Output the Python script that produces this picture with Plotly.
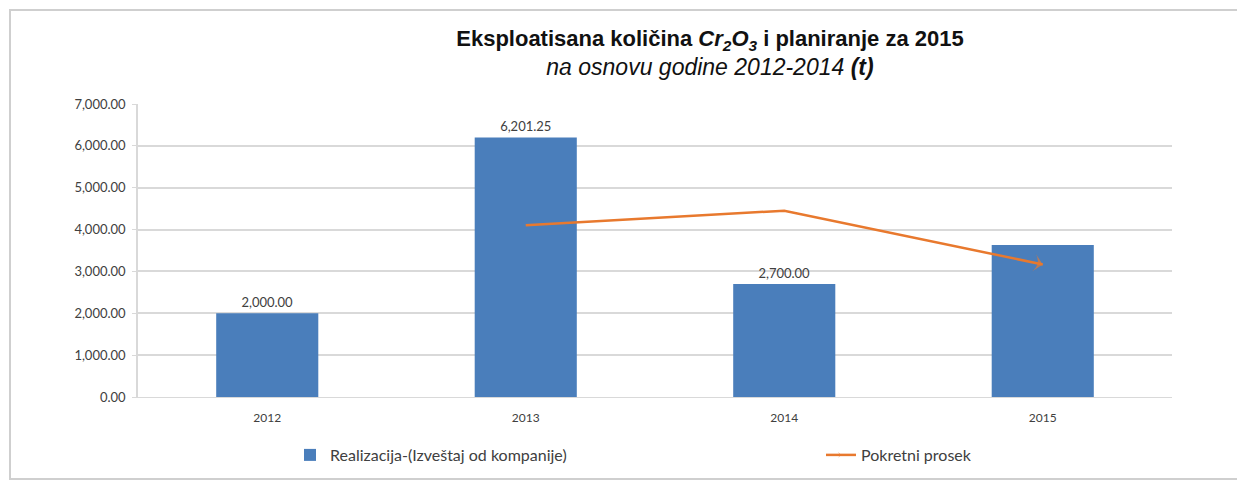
import plotly.graph_objects as go

# ---- data ----
years = ["2012", "2013", "2014", "2015"]
realizacija = [2000.00, 6201.25, 2700.00, 3633.75]
label_text = ["2,000.00", "6,201.25", "2,700.00", ""]

prosek_years = ["2013", "2014", "2015"]
pokretni_prosek = [4100.63, 4450.63, 3166.88]

y_ticks = [0, 1000, 2000, 3000, 4000, 5000, 6000, 7000]

BLUE = "#4a7ebb"
ORANGE = "#e8792e"
TXT = "#404040"
GRID = "#d9d9d9"

# page body has an 8px default margin -> figure is drawn 8px right/down
OFF = 8
W, H = 1245 - OFF, 487 - OFF
L, R, T, B = 138 - OFF, 1172 - OFF, 104 - OFF, 397 - OFF

fig = go.Figure()

fig.add_trace(go.Bar(
    x=years, y=realizacija,
    name="Realizacija-(Izveštaj od kompanije)",
    marker=dict(color=BLUE, line=dict(width=0)),
    text=label_text, textposition="outside",
    textfont=dict(family="Lato", size=13, color=TXT),
    cliponaxis=False,
    legend="legend", showlegend=True,
))

fig.add_trace(go.Scatter(
    x=prosek_years, y=pokretni_prosek,
    name="Pokretni prosek",
    mode="lines+markers",
    line=dict(color=ORANGE, width=2.5),
    marker=dict(symbol="arrow-wide", size=[0, 0, 13], angleref="previous",
                color=ORANGE, line=dict(width=0)),
    legend="legend2", showlegend=True,
))

def px_x(p):  # page pixel -> paper x
    return (p - OFF - L) / (R - L)

def px_y(p):  # page pixel -> paper y
    return (B - (p - OFF)) / (B - T)

legend_common = dict(
    orientation="h", xanchor="left", yanchor="middle",
    font=dict(family="Lato", size=16, color=TXT),
    bgcolor="rgba(0,0,0,0)",
)

fig.update_layout(
    width=W, height=H,
    showlegend=True,
    paper_bgcolor="white", plot_bgcolor="white",
    margin=dict(l=L, r=W - R, t=T, b=H - B),
    bargap=0.605,
    font=dict(family="Lato", color=TXT),
    title=dict(
        text=("<b>Eksploatisana količina <i>Cr<sub>2</sub>O<sub>3</sub></i> i planiranje za 2015</b>"
              "<br><span style='font-size:23px'><i>na osnovu godine 2012-2014 <b>(t)</b></i></span>"),
        font=dict(family="Liberation Sans", size=22, color="#111111"),
        x=px_x(710), xref="paper", xanchor="center",
        y=1 - (46 - OFF) / H, yref="container", yanchor="middle",
    ),
    xaxis=dict(
        type="category", showgrid=False,
        showline=True, linecolor=GRID, linewidth=1,
        ticks="", ticklabelstandoff=10,
        tickfont=dict(family="Lato", size=12, color=TXT),
    ),
    yaxis=dict(
        range=[0, 7000], tickvals=y_ticks, tickformat=",.2f",
        showgrid=True, gridcolor=GRID, gridwidth=1.5,
        showline=True, linecolor=GRID, linewidth=1.5,
        ticks="outside", ticklen=4, tickcolor=GRID, ticklabelstandoff=4,
        tickfont=dict(family="Lato", size=13, color=TXT),
        zeroline=False,
    ),
    legend=dict(x=px_x(290), y=px_y(455), **legend_common),
    legend2=dict(x=px_x(821), y=px_y(455), **legend_common),
    shapes=[dict(
        type="rect", xref="paper", yref="paper",
        x0=px_x(10), x1=px_x(1243),
        y0=px_y(479), y1=px_y(10),
        line=dict(color="#cfcfcf", width=2), fillcolor="rgba(0,0,0,0)",
        layer="below",
    )],
)

fig.write_html("out.html")
